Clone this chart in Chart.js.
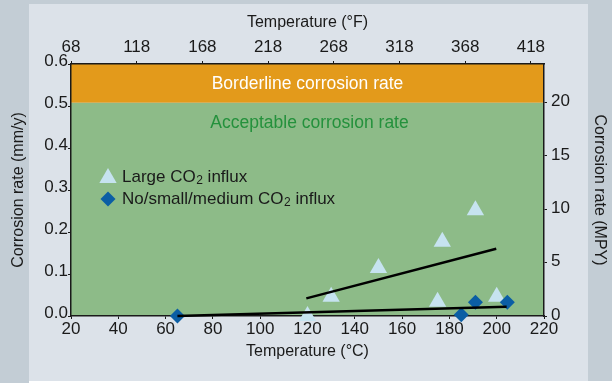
<!DOCTYPE html>
<html><head><meta charset="utf-8">
<script src="https://cdn.jsdelivr.net/npm/chart.js@4.4.1/dist/chart.umd.min.js"></script>
<style>html,body{margin:0;padding:0;background:#fff;}canvas{display:block}</style>
</head><body>
<canvas id="c" width="612" height="383"></canvas>
<script>
// ---- data ----
const largeTemp = [120, 130, 150, 175, 177, 191, 200];          // °C
const largeRate = [0.0, 0.046, 0.114, 0.034, 0.177, 0.252, 0.046]; // mm/y
const smallTemp = [65, 185, 191, 204.5];
const smallRate = [0.0, 0.003, 0.033, 0.033];
const trendLargeTemp = [119.5, 199.8];
const trendLargeRate = [0.042, 0.160];
const trendSmallTemp = [65, 204.2];
const trendSmallRate = [0.0, 0.022];
const tempCTicks = [20, 40, 60, 80, 100, 120, 140, 160, 180, 200, 220];
const tempFTicks = [68, 118, 168, 218, 268, 318, 368, 418];
const mmTicks = [0, 0.1, 0.2, 0.3, 0.4, 0.5, 0.6];
const mpyTicks = [0, 5, 10, 15, 20];
const MPY_PER_MM = 39.37;
const borderlineMPY = 20;
const labels = {
  xTitle: 'Temperature (°C)', x2Title: 'Temperature (°F)',
  yTitle: 'Corrosion rate (mm/y)', y2Title: 'Corrosion rate (MPY)',
  band1: 'Borderline corrosion rate', band2: 'Acceptable corrosion rate',
  leg1: ['Large CO', '2', ' influx'], leg2: ['No/small/medium CO', '2', ' influx']
};

const C = {
  outer: '#c3cdd5', panel: '#dce2e9', orange: '#e39a1b', green: '#8dbb88',
  green2: '#24913c', tri: '#c6e3f0', dia: '#0b5ea4', ink: '#1a1a1a'
};
const FONT = 'Liberation Sans, Arial, Helvetica, sans-serif';
const TICK = 17, TITLE = 16, LEG = 17, BAND = 17.5;

const toXY = (xs, ys) => xs.map((x, i) => ({x, y: ys[i]}));

const bgPlugin = {
  id: 'bg',
  beforeDraw(chart) {
    const {ctx, chartArea: a, scales: {y}} = chart;
    const W = chart.width, H = chart.height;
    ctx.save();
    ctx.fillStyle = C.outer; ctx.fillRect(0, 0, W, H);
    ctx.fillStyle = C.panel; ctx.fillRect(29, 4, 559, 377);
    ctx.fillStyle = '#ffffff'; ctx.fillRect(29, 381, 583, 2);
    const yb = y.getPixelForValue(borderlineMPY / MPY_PER_MM);
    ctx.fillStyle = C.green; ctx.fillRect(a.left, yb, a.right - a.left, a.bottom - yb);
    ctx.fillStyle = C.orange; ctx.fillRect(a.left, a.top, a.right - a.left, yb - a.top);
    const cx = (a.left + a.right) / 2;
    ctx.font = BAND + 'px ' + FONT; ctx.textAlign = 'center'; ctx.textBaseline = 'middle';
    ctx.fillStyle = '#ffffff'; ctx.fillText(labels.band1, cx, (a.top + yb) / 2 + 1);
    ctx.fillStyle = C.green2; ctx.fillText(labels.band2, cx + 2, yb + 21);
    ctx.restore();
  },
  afterDatasetsDraw(chart) {
    const {ctx, chartArea: a} = chart;
    ctx.save();
    const mx = a.left + 37, tx = a.left + 51;
    const r1 = a.top + 113, r2 = a.top + 135;
    const R = 10;
    ctx.fillStyle = C.tri; ctx.beginPath();
    for (let k = 0; k < 3; k++) {
      const ang = k * 2 * Math.PI / 3;
      const px = mx + Math.sin(ang) * R, py = r1 - Math.cos(ang) * R + 1;
      k ? ctx.lineTo(px, py) : ctx.moveTo(px, py);
    }
    ctx.closePath(); ctx.fill();
    const D = 7.5;
    ctx.fillStyle = C.dia; ctx.beginPath();
    ctx.moveTo(mx, r2 - D); ctx.lineTo(mx + D, r2); ctx.lineTo(mx, r2 + D); ctx.lineTo(mx - D, r2);
    ctx.closePath(); ctx.fill();
    const drawSub = (parts, x, y) => {
      ctx.fillStyle = C.ink; ctx.textAlign = 'left'; ctx.textBaseline = 'middle';
      ctx.font = LEG + 'px ' + FONT; ctx.fillText(parts[0], x, y); x += ctx.measureText(parts[0]).width + 0.5;
      ctx.font = '12px ' + FONT; ctx.fillText(parts[1], x, y + 4); x += ctx.measureText(parts[1]).width;
      ctx.font = LEG + 'px ' + FONT; ctx.fillText(parts[2], x, y);
    };
    drawSub(labels.leg1, tx, r1);
    drawSub(labels.leg2, tx, r2);
    ctx.restore();
  }
};

const axisCommon = (extra) => Object.assign({
  type: 'linear',
  grid: {display: true, drawOnChartArea: false, drawTicks: true, tickLength: 3, color: C.ink, lineWidth: 1},
  border: {display: true, color: C.ink, width: 1.5},
}, extra);

new Chart(document.getElementById('c'), {
  type: 'scatter',
  data: {
    datasets: [
      {type: 'line', data: toXY(trendLargeTemp, trendLargeRate), borderColor: '#000', borderWidth: 2.5, pointRadius: 0, fill: false, xAxisID: 'x', yAxisID: 'y', clip: false},
      {type: 'line', data: toXY(trendSmallTemp, trendSmallRate), borderColor: '#000', borderWidth: 2.5, pointRadius: 0, fill: false, xAxisID: 'x', yAxisID: 'y', clip: false},
      {label: 'No/small/medium CO2 influx', data: toXY(smallTemp, smallRate), pointStyle: 'rectRot', pointRadius: 7.5, backgroundColor: C.dia, borderWidth: 0, xAxisID: 'x', yAxisID: 'y', clip: false},
      {label: 'Large CO2 influx', data: toXY(largeTemp, largeRate), pointStyle: 'triangle', pointRadius: 10, backgroundColor: C.tri, borderWidth: 0, xAxisID: 'x', yAxisID: 'y', clip: false}
    ]
  },
  options: {
    responsive: false, devicePixelRatio: 1, animation: false,
    layout: {padding: 0},
    plugins: {legend: {display: false}, tooltip: {enabled: false}},
    scales: {
      x: axisCommon({position: 'bottom', min: 20, max: 220,
        afterBuildTicks: s => { s.ticks = tempCTicks.map(v => ({value: v})); },
        afterFit: s => { s.height = 67; },
        ticks: {font: {size: TICK, family: FONT}, color: C.ink, padding: 0, maxRotation: 0, autoSkip: false},
        title: {display: true, text: labels.xTitle, font: {size: TITLE, family: FONT}, color: C.ink, padding: {top: 0, bottom: 22}}}),
      x2: axisCommon({position: 'top', min: 68, max: 428,
        afterBuildTicks: s => { s.ticks = tempFTicks.map(v => ({value: v})); },
        afterFit: s => { s.height = 64; },
        ticks: {font: {size: TICK, family: FONT}, color: C.ink, padding: 3, maxRotation: 0, autoSkip: false},
        title: {display: true, text: labels.x2Title, font: {size: TITLE, family: FONT}, color: C.ink, padding: {top: 13, bottom: 0}}}),
      y: axisCommon({position: 'left', min: 0, max: 0.6,
        afterBuildTicks: s => { s.ticks = mmTicks.map(v => ({value: v})); },
        afterFit: s => { s.width = 71; },
        ticks: {font: {size: TICK, family: FONT}, color: C.ink, padding: 0, labelOffset: -3, callback: v => Number(v).toFixed(1)},
        title: {display: true, text: labels.yTitle, font: {size: TITLE, family: FONT}, color: C.ink, padding: {top: 9, bottom: 0}}}),
      y2: axisCommon({position: 'right', min: 0, max: 0.6 * MPY_PER_MM,
        afterBuildTicks: s => { s.ticks = mpyTicks.map(v => ({value: v})); },
        afterFit: s => { s.width = 68; },
        ticks: {font: {size: TICK, family: FONT}, color: C.ink, padding: 4, labelOffset: -1},
        title: {display: true, text: labels.y2Title, font: {size: TITLE, family: FONT}, color: C.ink, padding: {top: 3, bottom: 0}}})
    }
  },
  plugins: [bgPlugin]
});
</script>
</body></html>
